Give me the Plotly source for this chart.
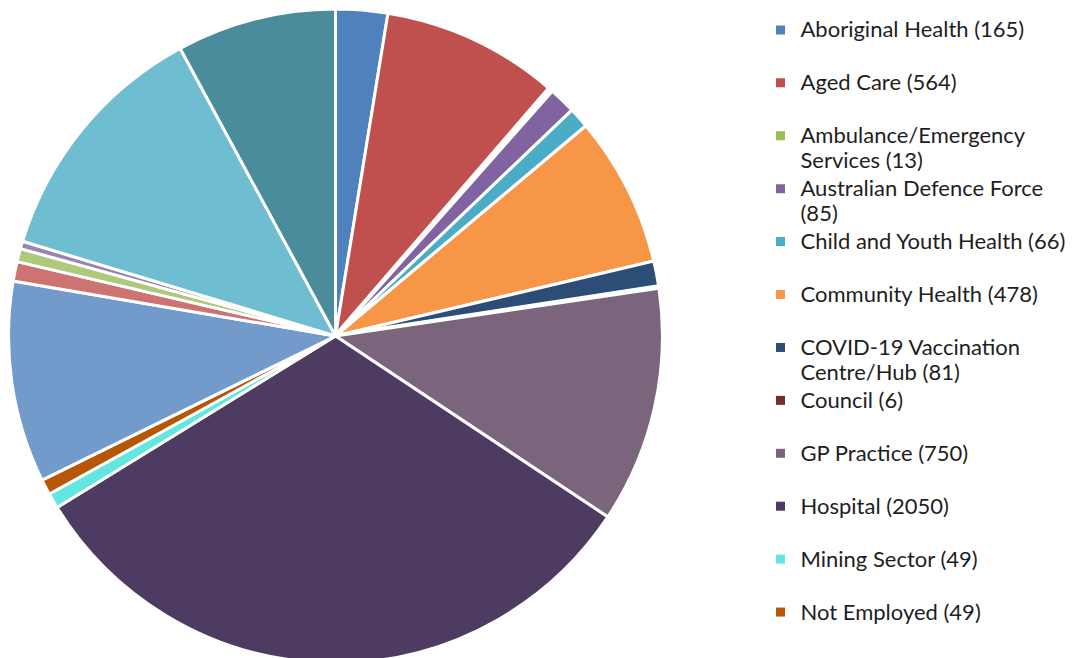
import plotly.graph_objects as go

# ---- data ----
categories = [
    "Aboriginal Health", "Aged Care", "Ambulance/Emergency Services",
    "Australian Defence Force", "Child and Youth Health", "Community Health",
    "COVID-19 Vaccination Centre/Hub", "Council", "GP Practice", "Hospital",
    "Mining Sector", "Not Employed",
    # remaining slices: their legend entries are cut off in the reference
    "Other", "Pharmacy", "Primary Health Network", "Prison/Correctional Health",
    "Private Practice", "University/Education",
]
counts = [165, 564, 13, 85, 66, 478, 81, 6, 750, 2050, 49, 49,
          640, 62, 42, 24, 800, 507]

# legend entries visible in the reference (legend is truncated after 12)
legend_text = [
    "Aboriginal Health (165)",
    "Aged Care (564)",
    "Ambulance/Emergency<br>Services (13)",
    "Australian Defence Force<br>(85)",
    "Child and Youth Health (66)",
    "Community Health (478)",
    "COVID-19 Vaccination<br>Centre/Hub (81)",
    "Council (6)",
    "GP Practice (750)",
    "Hospital (2050)",
    "Mining Sector (49)",
    "Not Employed (49)",
]

colors = [
    "#4F81BD", "#C0504D", "#9BBB59", "#8064A2", "#4BACC6", "#F79646",
    "#2C4D75", "#772C2A", "#7B657D", "#4D3B62", "#62E6E0", "#B65708",
    "#729ACA", "#CD7371", "#AFC97A", "#9983B5", "#6FBDD1", "#4A8C9C",
]

# slice border widths (the two tiniest slices disappear under the border)
border_widths = [3, 3, 4.5, 3, 3, 3, 3, 4.5, 3, 3, 3, 3, 3, 3, 3, 3, 3, 3]

fig = go.Figure()

fig.add_trace(go.Pie(
    labels=categories,
    values=counts,
    sort=False,
    direction="clockwise",
    rotation=0,
    textinfo="none",
    showlegend=False,
    marker=dict(colors=colors, line=dict(color="white", width=border_widths)),
    domain=dict(x=[0.0005, 0.6088], y=[0.0046, 0.9985]),
))

for i, txt in enumerate(legend_text):
    body = txt if "<br>" in txt else txt + "<br> "
    name = '<span style="font-size:22px">' + body.replace(
        "<br>", '</span><br><span style="font-size:22px">') + "</span>"
    fig.add_trace(go.Scatter(
        x=[None], y=[None], mode="markers", name=name,
        marker=dict(symbol="square", size=9, color=colors[i]),
        hoverinfo="skip", showlegend=True,
    ))

fig.update_layout(
    width=1075, height=658,
    margin=dict(l=0, r=0, t=0, b=0),
    paper_bgcolor="white", plot_bgcolor="white",
    xaxis=dict(visible=False), yaxis=dict(visible=False),
    legend=dict(
        x=0.7, y=0.9955, xanchor="left", yanchor="top",
        font=dict(family="Lato", size=19.2, color="#1E1E1E"),
        valign="top", traceorder="normal",
        bgcolor="rgba(0,0,0,0)",
    ),
)

fig.write_html("out.html")
